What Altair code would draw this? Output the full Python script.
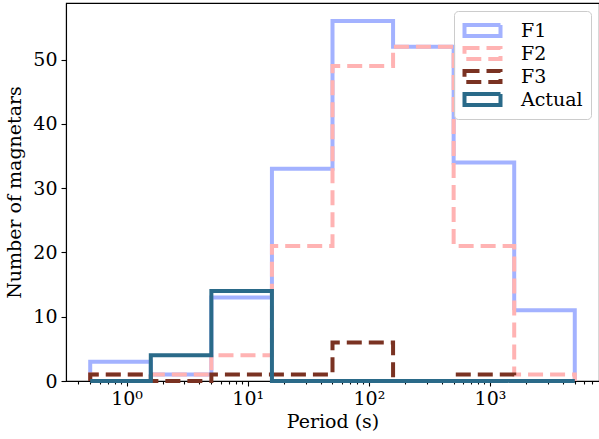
import altair as alt
import pandas as pd

# bin edges (half-decade bins) and counts per series
edges = [0.501, 1.585, 5.012, 15.85, 50.12, 158.5, 501.2, 1585.0, 5012.0]
series_names = ["F1", "F2", "F3", "Actual"]
f1 = [3, 1, 13, 33, 56, 52, 34, 11]
f2 = [1, 1, 4, 21, 49, 52, 21, 1]
f3 = [1, 0, 1, 1, 6, 0, 1, 0]
actual = [0, 4, 14, 0, 0, 0, 0, 0]
colors = ["#a3b2ff", "#ffb3b3", "#7a3222", "#2a6a89"]
dashes = [[1, 0], [15, 7], [15, 7], [1, 0]]

major_ticks = [1, 10, 100, 1000]
minor_ticks = [0.4, 0.5, 0.6, 0.7, 0.8, 0.9,
               2, 3, 4, 5, 6, 7, 8, 9,
               20, 30, 40, 50, 60, 70, 80, 90,
               200, 300, 400, 500, 600, 700, 800, 900,
               2000, 3000, 4000, 5000, 6000, 7000]

rows = []
for name, counts in zip(series_names, [f1, f2, f3, actual]):
    k = 0
    rows.append({"series": name, "x": edges[0], "y": 0, "i": k}); k += 1
    for j, c in enumerate(counts):
        rows.append({"series": name, "x": edges[j], "y": c, "i": k}); k += 1
        rows.append({"series": name, "x": edges[j + 1], "y": c, "i": k}); k += 1
    rows.append({"series": name, "x": edges[-1], "y": 0, "i": k})
df = pd.DataFrame(rows)

FONT = "DejaVu Serif"
xscale = alt.Scale(type="log", domain=[10 ** -0.5, 10 ** 3.9], nice=False)
yscale = alt.Scale(domain=[0, 58.8], nice=False, zero=True)

legend = alt.Legend(
    title=None, orient="top-right", offset=8,
    symbolType="M-3,-0.9H3V0.9H-3Z", symbolSize=144, symbolStrokeWidth=4,
    symbolFillColor="transparent", symbolOffset=11,
    labelFont=FONT, labelFontSize=19, labelColor="black", labelOffset=29,
    rowPadding=0, padding=8, clipHeight=23,
    strokeColor="#cccccc", fillColor="rgba(255,255,255,0.8)", cornerRadius=4,
)

lines = alt.Chart(df).mark_line(strokeWidth=4, strokeJoin="miter", strokeCap="butt").encode(
    x=alt.X("x:Q", scale=xscale,
            axis=alt.Axis(values=major_ticks, title="Period (s)", orient="bottom",
                          labelExpr="datum.value == 1 ? '10⁰' : datum.value == 10 ? '10¹' : datum.value == 100 ? '10²' : '10³'",
                          tickSize=5, labelPadding=3, titlePadding=4, grid=False)),
    y=alt.Y("y:Q", scale=yscale,
            axis=alt.Axis(values=[0, 10, 20, 30, 40, 50], title="Number of magnetars",
                          tickSize=5, labelPadding=4, titlePadding=8, grid=False)),
    color=alt.Color("series:N", scale=alt.Scale(domain=series_names, range=colors), legend=legend),
    strokeDash=alt.StrokeDash("series:N", scale=alt.Scale(domain=series_names, range=dashes), legend=legend),
    order=alt.Order("i:Q"),
)

minor = alt.Chart(df).mark_point(opacity=0).encode(
    x=alt.X("x:Q", scale=xscale,
            axis=alt.Axis(values=minor_ticks, labels=False, title=None, orient="bottom",
                          tickSize=3, domain=False, grid=False)),
    y=alt.Y("y:Q", scale=yscale),
)

chart = alt.layer(lines, minor).resolve_axis(x="independent").properties(
    width=533, height=378,
    autosize=alt.AutoSizeParams(type="none"),
    padding={"left": 66, "top": 3, "right": 0, "bottom": 58},
).configure_view(stroke="black", strokeWidth=1.1).configure_axis(
    labelFont=FONT, labelFontSize=19, labelColor="black",
    titleFont=FONT, titleFontSize=19, titleFontWeight="normal", titleColor="black",
    domainColor="black", tickColor="black", domainWidth=1.1, tickWidth=1.1,
)

chart.save("out.html", embed_options={"renderer": "svg", "actions": False})
